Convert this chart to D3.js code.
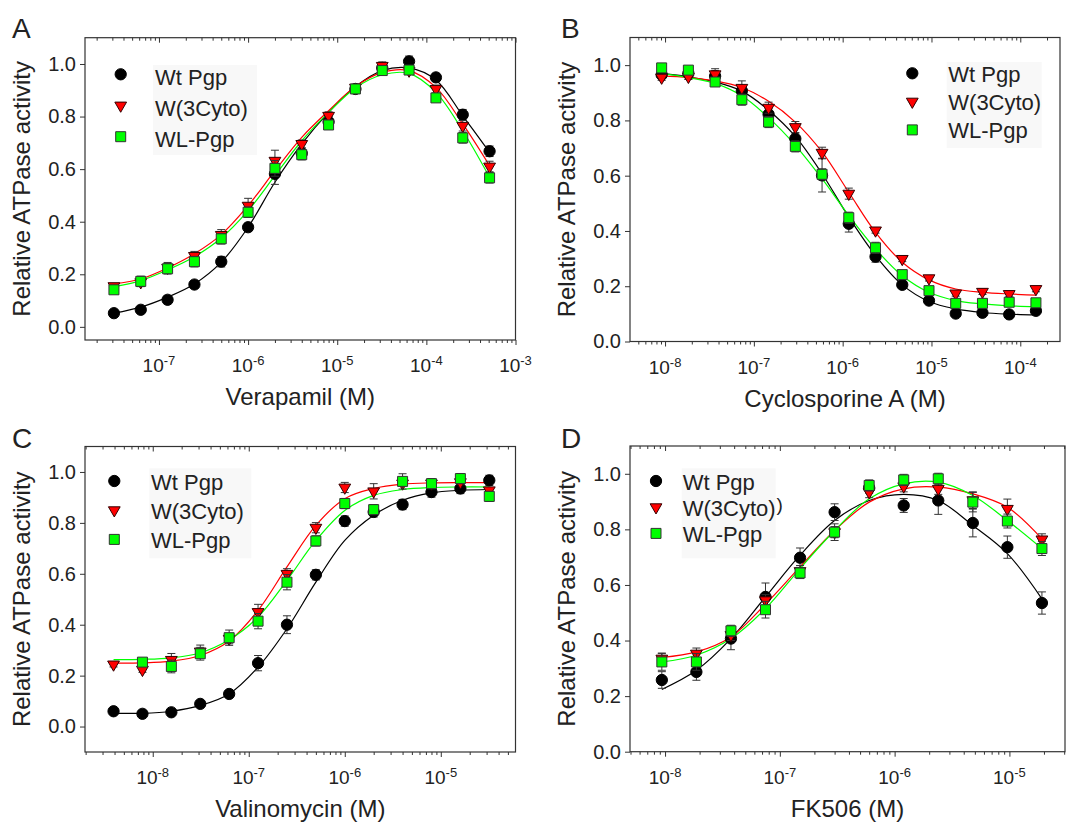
<!DOCTYPE html>
<html>
<head>
<meta charset="utf-8">
<script src="https://cdn.jsdelivr.net/npm/d3@7"></script>
<style>
body { margin: 0; background: #fff; }
svg text { font-family: "Liberation Sans", Arial, sans-serif; fill: #222; }
</style>
</head>
<body>
<div id="chart"></div>
<script>
// series names (legend order)
var seriesNames = ["Wt Pgp", "W(3Cyto)", "WL-Pgp"];
var yTicks = [0, 0.2, 0.4, 0.6, 0.8, 1.0];

// A - verapamil
var verConc = [3.125e-8, 6.25e-8, 1.25e-7, 2.5e-7, 5e-7, 1e-6, 2e-6, 4e-6, 8e-6, 1.6e-5, 3.2e-5, 6.4e-5, 1.28e-4, 2.56e-4, 5.12e-4];
var verWt    = [0.052, 0.065, 0.103, 0.161, 0.248, 0.379, 0.582, 0.66, 0.78, 0.905, 0.985, 1.01, 0.949, 0.807, 0.668];
var verWtErr = [0.01, 0.01, 0.015, 0.015, 0.02, 0.015, 0.04, 0.02, 0.02, 0.015, 0.02, 0.02, 0.015, 0.02, 0.02];
var verW3    = [0.155, 0.17, 0.225, 0.27, 0.35, 0.461, 0.632, 0.696, 0.803, 0.91, 0.993, 0.975, 0.905, 0.765, 0.61];
var verW3Err = [0.01, 0.015, 0.02, 0.017, 0.02, 0.028, 0.04, 0.015, 0.015, 0.01, 0.015, 0.01, 0.015, 0.02, 0.02];
var verWL    = [0.141, 0.173, 0.221, 0.248, 0.335, 0.436, 0.603, 0.655, 0.768, 0.905, 0.975, 0.977, 0.871, 0.719, 0.567];
var verWLErr = [0.01, 0.02, 0.02, 0.02, 0.02, 0.02, 0.03, 0.02, 0.015, 0.01, 0.01, 0.015, 0.01, 0.02, 0.02];
var verWtFit = [0.052, 0.075, 0.113, 0.163, 0.246, 0.379, 0.55, 0.696, 0.816, 0.914, 0.975, 0.985, 0.939, 0.803, 0.664];
var verW3Fit = [0.163, 0.182, 0.224, 0.278, 0.351, 0.461, 0.594, 0.721, 0.822, 0.914, 0.968, 0.975, 0.911, 0.772, 0.613];
var verWLFit = [0.153, 0.176, 0.217, 0.267, 0.338, 0.442, 0.575, 0.708, 0.816, 0.909, 0.959, 0.964, 0.892, 0.746, 0.569];

// B - cyclosporine A
var csaConc = [9.155e-9, 1.831e-8, 3.662e-8, 7.324e-8, 1.465e-7, 2.93e-7, 5.86e-7, 1.172e-6, 2.344e-6, 4.688e-6, 9.375e-6, 1.875e-5, 3.75e-5, 7.5e-5, 1.5e-4];
var csaWt    = [0.965, 0.97, 0.96, 0.907, 0.822, 0.734, 0.601, 0.426, 0.307, 0.205, 0.148, 0.101, 0.104, 0.098, 0.111];
var csaWtErr = [0.01, 0.02, 0.02, 0.02, 0.02, 0.02, 0.06, 0.03, 0.02, 0.01, 0.01, 0.01, 0.01, 0.01, 0.01];
var csaW3    = [0.955, 0.958, 0.967, 0.918, 0.846, 0.776, 0.683, 0.535, 0.402, 0.299, 0.229, 0.174, 0.18, 0.172, 0.19];
var csaW3Err = [0.01, 0.01, 0.02, 0.025, 0.02, 0.02, 0.02, 0.02, 0.01, 0.01, 0.01, 0.01, 0.01, 0.01, 0.01];
var csaWL    = [0.99, 0.982, 0.939, 0.875, 0.794, 0.706, 0.605, 0.448, 0.339, 0.242, 0.184, 0.138, 0.138, 0.142, 0.14];
var csaWLErr = [0.01, 0.01, 0.01, 0.02, 0.02, 0.02, 0.02, 0.02, 0.02, 0.01, 0.01, 0.01, 0.01, 0.01, 0.01];
var csaWtFit = [0.97, 0.958, 0.939, 0.906, 0.837, 0.742, 0.607, 0.45, 0.311, 0.205, 0.145, 0.118, 0.105, 0.099, 0.096];
var csaW3Fit = [0.961, 0.955, 0.943, 0.919, 0.869, 0.794, 0.686, 0.54, 0.395, 0.287, 0.223, 0.19, 0.178, 0.172, 0.168];
var csaWLFit = [0.97, 0.955, 0.934, 0.889, 0.81, 0.71, 0.589, 0.456, 0.335, 0.238, 0.178, 0.148, 0.136, 0.129, 0.126];

// C - valinomycin
var valConc = [3.906e-9, 7.813e-9, 1.563e-8, 3.125e-8, 6.25e-8, 1.25e-7, 2.5e-7, 5e-7, 1e-6, 2e-6, 4e-6, 8e-6, 1.6e-5, 3.2e-5];
var valWt    = [0.06, 0.05, 0.056, 0.089, 0.128, 0.249, 0.4, 0.596, 0.807, 0.843, 0.872, 0.921, 0.935, 0.967];
var valWtErr = [0.005, 0.005, 0.005, 0.01, 0.01, 0.03, 0.035, 0.02, 0.02, 0.02, 0.02, 0.02, 0.02, 0.02];
var valW3    = [0.244, 0.223, 0.262, 0.295, 0.345, 0.45, 0.6, 0.781, 0.939, 0.924, 0.955, 0.955, 0.96, 0.928];
var valW3Err = [0.01, 0.01, 0.025, 0.025, 0.02, 0.03, 0.02, 0.02, 0.02, 0.03, 0.01, 0.01, 0.01, 0.01];
var valWL    = [null, 0.253, 0.236, 0.286, 0.349, 0.414, 0.567, 0.729, 0.876, 0.852, 0.963, 0.954, 0.974, 0.904];
var valWLErr = [null, 0.01, 0.025, 0.025, 0.03, 0.03, 0.03, 0.02, 0.02, 0.02, 0.03, 0.02, 0.02, 0.02];
var valWtFit = [0.052, 0.052, 0.06, 0.083, 0.128, 0.233, 0.384, 0.567, 0.731, 0.83, 0.889, 0.918, 0.928, 0.931];
var valW3Fit = [0.249, 0.25, 0.257, 0.279, 0.336, 0.456, 0.627, 0.79, 0.895, 0.935, 0.952, 0.957, 0.958, 0.958];
var valWLFit = [0.263, 0.264, 0.27, 0.29, 0.341, 0.43, 0.574, 0.731, 0.849, 0.908, 0.931, 0.939, 0.941, 0.941];

// D - FK506
var fkConc = [9.375e-9, 1.875e-8, 3.75e-8, 7.5e-8, 1.5e-7, 3e-7, 6e-7, 1.2e-6, 2.4e-6, 4.8e-6, 9.6e-6, 1.92e-5];
var fkWt    = [0.258, 0.287, 0.407, 0.557, 0.698, 0.862, 0.95, 0.886, 0.904, 0.823, 0.736, 0.535];
var fkWtErr = [0.03, 0.03, 0.04, 0.05, 0.035, 0.03, 0.02, 0.025, 0.05, 0.05, 0.04, 0.04];
var fkW3    = [0.335, 0.353, 0.42, 0.545, 0.65, 0.79, 0.934, 0.955, 0.946, 0.905, 0.874, 0.764];
var fkW3Err = [0.02, 0.02, 0.02, 0.02, 0.02, 0.02, 0.02, 0.02, 0.02, 0.03, 0.035, 0.02];
var fkWL    = [0.323, 0.323, 0.435, 0.511, 0.643, 0.79, 0.958, 0.978, 0.982, 0.898, 0.83, 0.731];
var fkWLErr = [0.03, 0.03, 0.02, 0.03, 0.02, 0.03, 0.02, 0.02, 0.02, 0.035, 0.025, 0.025];
var fkWtFit = [0.224, 0.293, 0.407, 0.557, 0.707, 0.832, 0.904, 0.926, 0.904, 0.814, 0.713, 0.55];
var fkW3Fit = [0.339, 0.359, 0.413, 0.531, 0.665, 0.796, 0.898, 0.946, 0.952, 0.928, 0.88, 0.766];
var fkWLFit = [0.323, 0.347, 0.407, 0.515, 0.659, 0.796, 0.91, 0.964, 0.97, 0.922, 0.832, 0.731];

var width = 1069, height = 823;
var svg = d3.select("#chart").append("svg")
    .attr("width", width).attr("height", height)
    .style("background", "#fff");

var colors = ["#000000", "#ff0000", "#00ff00"];
var markStroke = ["#000", "#330000", "#333"];
var shapes = [
    {type: d3.symbolCircle, size: 100, rot: 0},
    {type: d3.symbolTriangle, size: 60, rot: 180},
    {type: d3.symbolSquare, size: 100, rot: 0}
];

function mark(g, i, px, py) {
    g.append("path")
        .attr("d", d3.symbol().type(shapes[i].type).size(shapes[i].size)())
        .attr("transform", "translate(" + px + "," + py + ") rotate(" + shapes[i].rot + ")")
        .attr("fill", colors[i])
        .attr("stroke", markStroke[i])
        .attr("stroke-width", 1);
}

function drawPanel(p) {
    var g = svg.append("g");
    var x = d3.scaleLog().domain(p.xDomain).range([p.left, p.right]);
    var y = d3.scaleLinear().domain(p.yDomain).range([p.bottom, p.top]);

    // major / minor log ticks
    var lo = Math.floor(Math.log10(p.xDomain[0])), hi = Math.ceil(Math.log10(p.xDomain[1]));
    var majors = [], minors = [];
    for (var e = lo; e <= hi; e++) {
        var v = Math.pow(10, e);
        if (v >= p.xDomain[0] * 0.999 && v <= p.xDomain[1] * 1.001) majors.push(v);
        for (var m = 2; m < 10; m++) {
            var mv = m * v;
            if (mv > p.xDomain[0] && mv < p.xDomain[1]) minors.push(mv);
        }
    }
    [p.bottom, p.top].forEach(function(yy) {
        var a1 = g.append("g").attr("transform", "translate(0," + yy + ")")
            .call(d3.axisBottom(x).tickValues(majors).tickSize(5).tickFormat(""));
        var a2 = g.append("g").attr("transform", "translate(0," + yy + ")")
            .call(d3.axisBottom(x).tickValues(minors).tickSize(3).tickFormat(""));
        a1.select(".domain").remove();
        a2.select(".domain").remove();
        g.selectAll(".tick line").attr("stroke", "#333");
    });

    // decade labels 10^n
    majors.forEach(function(v) {
        var t = g.append("text")
            .attr("x", x(v)).attr("y", p.bottom + 32)
            .attr("text-anchor", "middle")
            .style("font-size", "19px");
        t.append("tspan").text("10");
        t.append("tspan").attr("dy", -7).style("font-size", "13px")
            .text(String(Math.round(Math.log10(v))));
    });

    // y axis
    var ya = g.append("g").attr("transform", "translate(" + p.left + ",0)")
        .call(d3.axisLeft(y).tickValues(yTicks).tickSize(5).tickPadding(4)
            .tickFormat(d3.format(".1f")));
    ya.select(".domain").remove();
    ya.selectAll(".tick line").attr("stroke", "#333");
    ya.selectAll(".tick text").style("font-size", "20px")
        .style("font-family", "'Liberation Sans', Arial, sans-serif").attr("fill", "#222");

    // frame
    g.append("rect")
        .attr("x", p.left).attr("y", p.top)
        .attr("width", p.right - p.left).attr("height", p.bottom - p.top)
        .attr("fill", "none").attr("stroke", "#333").attr("stroke-width", 1.2);

    // titles
    g.append("text")
        .attr("transform", "translate(" + (p.left - 55) + "," + ((p.top + p.bottom) / 2) + ") rotate(-90)")
        .attr("text-anchor", "middle").style("font-size", "24px")
        .text("Relative ATPase activity");
    g.append("text")
        .attr("x", (p.left + p.right) / 2).attr("y", p.bottom + 65)
        .attr("text-anchor", "middle").style("font-size", "24px")
        .text(p.xTitle);
    g.append("text")
        .attr("x", p.letterX).attr("y", p.letterY)
        .style("font-size", "28px").text(p.letter);

    // legend
    g.append("rect")
        .attr("x", p.legBox[0]).attr("y", p.legBox[1])
        .attr("width", p.legBox[2]).attr("height", p.legBox[3])
        .attr("fill", "#f8f8f8");
    seriesNames.forEach(function(name, i) {
        var ry = p.legY + i * p.legDy;
        mark(g, i, p.legX, ry);
        var t = g.append("text").attr("x", p.legTextX).attr("y", ry + p.legBase)
            .style("font-size", "22px");
        t.append("tspan").text(name);
        if (p.legExtra && p.legExtra[i]) {
            t.append("tspan").attr("dx", 1).attr("dy", -5).style("font-size", "19px").text(p.legExtra[i]);
        }
    });

    // fitted curves
    var line = d3.line()
        .x(function(d) { return x(d[0]); })
        .y(function(d) { return y(d[1]); })
        .curve(d3.curveCatmullRom.alpha(0.5));
    p.fits.forEach(function(f, i) {
        g.append("path")
            .datum(d3.zip(p.conc, f))
            .attr("d", line)
            .attr("fill", "none")
            .attr("stroke", colors[i])
            .attr("stroke-width", 1.2);
    });

    // error bars + points
    p.values.forEach(function(vals, i) {
        var errs = p.errors[i];
        vals.forEach(function(v, j) {
            if (v == null) return;
            var cx = x(p.conc[j]);
            var e = errs[j] || 0;
            var y1 = y(v - e), y2 = y(v + e);
            g.append("line").attr("x1", cx).attr("x2", cx).attr("y1", y1).attr("y2", y2)
                .attr("stroke", "#333").attr("stroke-width", 1);
            [y1, y2].forEach(function(yy) {
                g.append("line").attr("x1", cx - 4).attr("x2", cx + 4).attr("y1", yy).attr("y2", yy)
                    .attr("stroke", "#333").attr("stroke-width", 1);
            });
        });
        vals.forEach(function(v, j) {
            if (v == null) return;
            mark(g, i, x(p.conc[j]), y(v));
        });
    });
}

drawPanel({
    letter: "A", letterX: 12, letterY: 38,
    left: 85, right: 515.5, top: 37.7, bottom: 340,
    xDomain: [1.48e-8, 1e-3], yDomain: [-0.05, 1.1],
    xTitle: "Verapamil (M)",
    conc: verConc,
    values: [verWt, verW3, verWL],
    errors: [verWtErr, verW3Err, verWLErr],
    fits: [verWtFit, verW3Fit, verWLFit],
    legX: 120.7, legY: 74.3, legDy: 31.2, legTextX: 155, legBase: 10.5,
    legBox: [153, 65, 104, 90]
});

drawPanel({
    letter: "B", letterX: 561, letterY: 38,
    left: 630, right: 1060, top: 37.5, bottom: 341.5,
    xDomain: [4.03e-9, 2.8e-4], yDomain: [0, 1.1],
    xTitle: "Cyclosporine A (M)",
    conc: csaConc,
    values: [csaWt, csaW3, csaWL],
    errors: [csaWtErr, csaW3Err, csaWLErr],
    fits: [csaWtFit, csaW3Fit, csaWLFit],
    legX: 912.3, legY: 73.3, legDy: 28.3, legTextX: 948.3, legBase: 8.5,
    legBox: [946.7, 62, 95, 86]
});

drawPanel({
    letter: "C", letterX: 12, letterY: 448,
    left: 85, right: 515.5, top: 446.5, bottom: 752,
    xDomain: [1.97e-9, 6.0e-5], yDomain: [-0.1, 1.1],
    xTitle: "Valinomycin (M)",
    conc: valConc,
    values: [valWt, valW3, valWL],
    errors: [valWtErr, valW3Err, valWLErr],
    fits: [valWtFit, valW3Fit, valWLFit],
    legX: 114.3, legY: 481, legDy: 29.2, legTextX: 151, legBase: 9,
    legBox: [149.3, 468.3, 102, 90]
});

drawPanel({
    letter: "D", letterX: 561, letterY: 448,
    left: 630, right: 1065, top: 446, bottom: 751.7,
    xDomain: [4.95e-9, 3.05e-5], yDomain: [0, 1.1],
    xTitle: "FK506 (M)",
    conc: fkConc,
    values: [fkWt, fkW3, fkWL],
    errors: [fkWtErr, fkW3Err, fkWLErr],
    fits: [fkWtFit, fkW3Fit, fkWLFit],
    legX: 656, legY: 481, legDy: 26.2, legTextX: 682.7, legBase: 9,
    legExtra: [null, ")", null],
    legBox: [681.7, 468.3, 94, 90]
});
</script>
</body>
</html>
